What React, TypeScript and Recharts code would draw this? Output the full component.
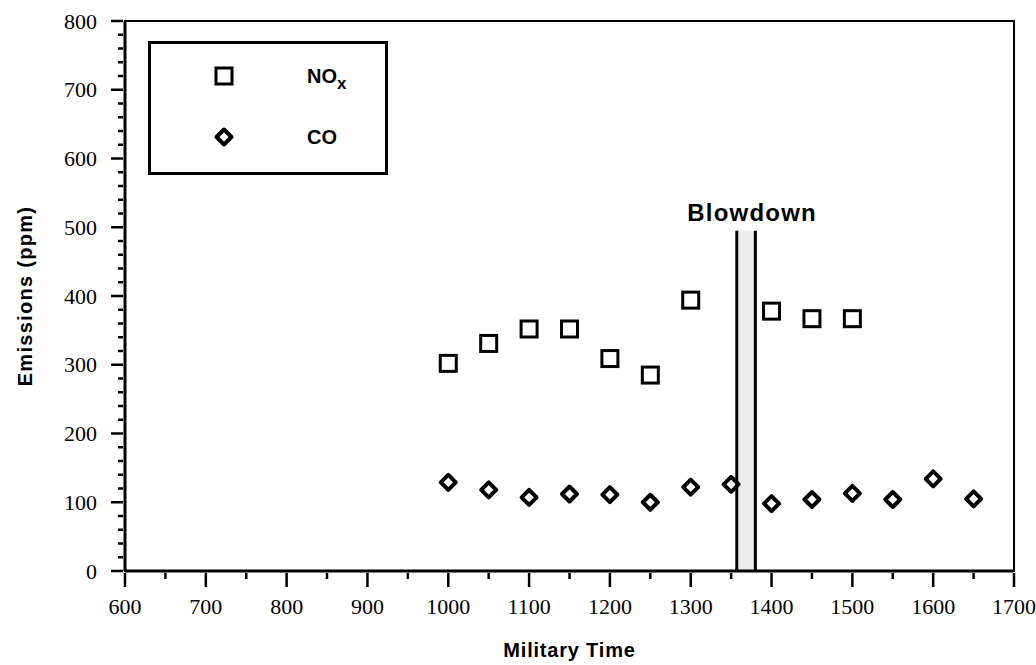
import React from "react";
import {
  ScatterChart,
  Scatter,
  XAxis,
  YAxis,
  ReferenceArea,
  ReferenceLine,
} from "recharts";

// NOx readings (ppm) by military time
const noxTimes = [1000, 1050, 1100, 1150, 1200, 1250, 1300, 1400, 1450, 1500];
const noxValues = [302, 331, 352, 352, 309, 285, 394, 378, 367, 367];

// CO readings (ppm) by military time
const coTimes = [
  1000, 1050, 1100, 1150, 1200, 1250, 1300, 1350, 1400, 1450, 1500, 1550, 1600,
  1650,
];
const coValues = [129, 118, 107, 112, 111, 100, 122, 126, 98, 104, 113, 104, 134, 105];

const xTicks = [
  600, 650, 700, 750, 800, 850, 900, 950, 1000, 1050, 1100, 1150, 1200, 1250,
  1300, 1350, 1400, 1450, 1500, 1550, 1600, 1650, 1700,
];
const yTicks = [
  0, 20, 40, 60, 80, 100, 120, 140, 160, 180, 200, 220, 240, 260, 280, 300, 320,
  340, 360, 380, 400, 420, 440, 460, 480, 500, 520, 540, 560, 580, 600, 620, 640,
  660, 680, 700, 720, 740, 760, 780, 800,
];

// blowdown window
const blowdownStart = 1357;
const blowdownEnd = 1380;
const blowdownTop = 495;

const noxData = noxTimes.map((t, i) => ({ time: t, value: noxValues[i] }));
const coData = coTimes.map((t, i) => ({ time: t, value: coValues[i] }));

const SERIF = "'Liberation Serif', 'Times New Roman', serif";
const SANS = "'Liberation Sans', Arial, sans-serif";

function YTick({ x, y, payload }: any) {
  const major = payload.value % 100 === 0;
  return (
    <g>
      <line x1={x} x2={x - (major ? 12 : 5)} y1={y} y2={y} stroke="#000" strokeWidth={2.5} />
      {major && (
        <text
          x={x - 26}
          y={y}
          dy="0.35em"
          textAnchor="end"
          fontFamily={SERIF}
          fontSize={22}
          fill="#000"
        >
          {payload.value}
        </text>
      )}
    </g>
  );
}

function XTick({ x, y, payload }: any) {
  const major = payload.value % 100 === 0;
  return (
    <g>
      <line x1={x} x2={x} y1={y} y2={y + (major ? 14 : 6)} stroke="#000" strokeWidth={2.5} />
      {major && (
        <text
          x={x}
          y={y + 41}
          textAnchor="middle"
          fontFamily={SERIF}
          fontSize={22}
          fill="#000"
        >
          {payload.value}
        </text>
      )}
    </g>
  );
}

function SquareMark({ cx, cy }: any) {
  return (
    <rect x={cx - 8} y={cy - 8} width={16} height={16} fill="none" stroke="#000" strokeWidth={3} />
  );
}

function DiamondMark({ cx, cy }: any) {
  const r = 7.5;
  return (
    <polygon
      points={`${cx},${cy - r} ${cx + r},${cy} ${cx},${cy + r} ${cx - r},${cy}`}
      fill="none"
      stroke="#000"
      strokeWidth={4}
      strokeLinejoin="round"
    />
  );
}

export default function App() {
  return (
    <div style={{ position: "absolute", left: 0, top: 0, width: 1036, height: 665, background: "#fff" }}>
      <ScatterChart
        width={1036}
        height={665}
        margin={{ top: 21, right: 22, bottom: 0, left: 0 }}
      >
        <XAxis
          type="number"
          dataKey="time"
          domain={[600, 1700]}
          ticks={xTicks}
          interval={0}
          tickSize={0}
          tickLine={false}
          tick={<XTick />}
          height={94}
          axisLine={{ stroke: "#000", strokeWidth: 3 }}
          label={({ viewBox }: any) => (
            <text
              x={viewBox.x + viewBox.width / 2}
              y={657}
              textAnchor="middle"
              fontFamily={SANS}
              fontWeight="bold"
              fontSize={20}
              letterSpacing={0.8}
              fill="#000"
            >
              Military Time
            </text>
          )}
        />
        <YAxis
          type="number"
          dataKey="value"
          domain={[0, 800]}
          ticks={yTicks}
          interval={0}
          tickSize={0}
          tickLine={false}
          tick={<YTick />}
          width={125}
          axisLine={{ stroke: "#000", strokeWidth: 3 }}
          label={({ viewBox }: any) => {
            const cy = viewBox.y + viewBox.height / 2;
            return (
              <text
                x={25}
                y={cy}
                dy="0.35em"
                transform={`rotate(-90, 25, ${cy})`}
                textAnchor="middle"
                fontFamily={SANS}
                fontWeight="bold"
                fontSize={20}
                letterSpacing={1.3}
                fill="#000"
              >
                Emissions (ppm)
              </text>
            );
          }}
        />
        <ReferenceArea
          x1={600}
          x2={1700}
          y1={0}
          y2={800}
          fill="none"
          stroke="#000"
          strokeWidth={2}
        />
        <ReferenceArea
          x1={blowdownStart}
          x2={blowdownEnd}
          y1={0}
          y2={blowdownTop}
          fill="#ececec"
          fillOpacity={1}
          stroke="none"
          label={({ viewBox }: any) => (
            <text
              x={viewBox.x + viewBox.width / 2 + 6}
              y={viewBox.y - 10}
              textAnchor="middle"
              fontFamily={SANS}
              fontWeight="bold"
              fontSize={24}
              letterSpacing={1.2}
              fill="#000"
            >
              Blowdown
            </text>
          )}
        />
        <ReferenceLine
          segment={[
            { x: blowdownStart, y: 0 },
            { x: blowdownStart, y: blowdownTop },
          ]}
          stroke="#000"
          strokeWidth={3}
        />
        <ReferenceLine
          segment={[
            { x: blowdownEnd, y: 0 },
            { x: blowdownEnd, y: blowdownTop },
          ]}
          stroke="#000"
          strokeWidth={3}
        />
        <Scatter name="NOx" data={noxData} shape={<SquareMark />} isAnimationActive={false} />
        <Scatter name="CO" data={coData} shape={<DiamondMark />} isAnimationActive={false} />
      </ScatterChart>

      {/* legend box, top-left inside the plot */}
      <div
        style={{
          position: "absolute",
          left: 148,
          top: 41,
          width: 234,
          height: 128,
          border: "3px solid #000",
        }}
      >
        <svg width={234} height={128} style={{ position: "absolute", left: 0, top: 0 }}>
          <SquareMark cx={73} cy={32} />
          <DiamondMark cx={73} cy={93} />
          <text x={156} y={39} fontFamily={SANS} fontWeight="bold" fontSize={20}>
            NO
            <tspan dy={6} fontSize={17}>
              x
            </tspan>
          </text>
          <text x={156} y={100} fontFamily={SANS} fontWeight="bold" fontSize={20}>
            CO
          </text>
        </svg>
      </div>
    </div>
  );
}
